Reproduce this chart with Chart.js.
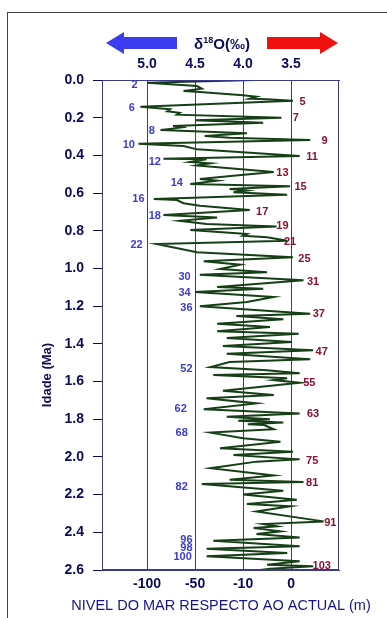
<!DOCTYPE html>
<html>
<head>
<meta charset="utf-8">
<script src="https://cdn.jsdelivr.net/npm/chart.js@4"></script>
<style>
  html, body { margin: 0; padding: 0; background: #fff; }
  #wrap { position: relative; width: 387px; height: 618px; }
</style>
</head>
<body>
<div id="wrap"><canvas id="isotopeChart"></canvas></div>
<script>
// Age (Ma) of each sample, top to bottom
const ages = [
  0.000, 0.014, 0.032, 0.046, 0.058, 0.064, 0.081, 0.089, 0.099, 0.102, 0.110, 0.142, 0.155, 0.166, 0.174, 0.184, 0.200, 0.214, 0.227, 0.244, 0.248, 0.258, 0.265, 0.283, 0.297, 0.306, 0.318, 0.338, 0.350, 0.368, 0.403, 0.418, 0.421, 0.435, 0.442, 0.453, 0.488,
  0.508, 0.525, 0.534, 0.552, 0.564, 0.578, 0.587, 0.596, 0.609, 0.631, 0.637, 0.654, 0.667, 0.690, 0.716, 0.729, 0.747, 0.764, 0.778, 0.796, 0.817, 0.826, 0.835, 0.853, 0.870, 0.914, 0.941, 0.962, 0.980, 1.003, 1.020,
  1.033, 1.040, 1.063, 1.098, 1.107, 1.125, 1.151, 1.178, 1.201, 1.240, 1.252, 1.270, 1.293, 1.311, 1.333, 1.346, 1.369, 1.390, 1.411, 1.434, 1.452, 1.482, 1.496, 1.523, 1.540,
  1.556, 1.565, 1.583, 1.592, 1.606, 1.649, 1.671, 1.689, 1.716, 1.747, 1.769, 1.787, 1.800, 1.808, 1.818, 1.826, 1.831, 1.853, 1.871, 1.901, 1.919, 1.954, 1.972, 1.990, 2.013, 2.025, 2.060,
  2.098, 2.121, 2.133, 2.144, 2.179, 2.200, 2.227, 2.250, 2.262, 2.289, 2.342, 2.356, 2.368, 2.377, 2.395, 2.409, 2.427, 2.445, 2.474, 2.487, 2.510, 2.527, 2.554, 2.572, 2.580, 2.593, 2.600
];
// delta 18O (per mil) for each age
const d18O = [
  3.88, 5.00, 4.48, 4.43, 4.62, 4.45, 4.00, 3.86, 3.93, 3.75, 3.48, 5.07, 4.76, 4.79, 4.66, 4.69, 3.60, 4.50, 3.79, 4.73, 4.59, 4.74, 4.86, 3.96, 4.40, 4.14, 3.30, 5.09, 4.62, 4.48, 3.41, 4.83, 4.38, 4.55, 4.34, 4.48, 3.68,
  4.10, 4.45, 4.27, 4.55, 3.51, 4.14, 3.96, 4.10, 3.54, 4.93, 4.69, 4.62, 4.45, 3.93, 4.83, 4.27, 4.66, 4.38, 3.65, 4.55, 3.96, 4.00, 3.75, 3.54, 4.90, 4.48, 3.48, 4.41, 4.03, 4.24, 3.75,
  4.45, 4.21, 3.37, 4.27, 3.79, 4.50, 3.68, 3.96, 4.45, 3.30, 4.07, 3.58, 4.27, 3.72, 4.27, 3.42, 4.17, 3.49, 4.21, 3.27, 4.17, 3.30, 4.14, 4.34, 3.75,
  3.41, 4.31, 3.54, 3.68, 3.41, 4.21, 3.68, 4.38, 3.86, 4.41, 3.41, 4.17, 3.72, 4.05, 3.58, 3.95, 3.78, 3.68, 4.34, 4.00, 3.61, 4.24, 3.48, 4.10, 3.41, 3.86, 4.34,
  3.68, 4.14, 3.37, 4.43, 3.58, 4.00, 3.44, 3.96, 3.51, 3.86, 3.16, 3.79, 3.65, 3.89, 3.61, 3.86, 3.41, 4.31, 3.41, 4.38, 3.54, 4.38, 3.41, 3.75, 3.27, 3.72, 3.82
];

const d18OTicks = [5.0, 4.5, 4.0, 3.5];
const seaLevelTicks = ["-100", "-50", "-10", "0"];

// marine isotope stages: glacial (even, blue) and interglacial (odd, red)
const glacialStages = ["2", "6", "8", "10", "12", "14", "16", "18", "22", "30", "34", "36", "52", "62", "68", "82", "96", "98", "100"];
const glacialAges = [0.027, 0.147, 0.269, 0.345, 0.434, 0.548, 0.633, 0.720, 0.876, 1.044, 1.129, 1.211, 1.533, 1.746, 1.875, 2.161, 2.441, 2.485, 2.533];
const glacialD18O = [5.13, 5.16, 4.95, 5.19, 4.92, 4.69, 5.09, 4.92, 5.11, 4.61, 4.61, 4.59, 4.59, 4.65, 4.64, 4.64, 4.59, 4.59, 4.63];

const interStages = ["5", "7", "9", "11", "13", "15", "17", "19", "21", "25", "31", "37", "47", "55", "63", "75", "81", "91", "103"];
const interAges = [0.115, 0.203, 0.322, 0.410, 0.492, 0.566, 0.699, 0.775, 0.858, 0.950, 1.070, 1.242, 1.442, 1.606, 1.774, 2.020, 2.140, 2.349, 2.579];
const interD18O = [3.38, 3.45, 3.15, 3.28, 3.59, 3.40, 3.80, 3.59, 3.51, 3.36, 3.27, 3.21, 3.18, 3.31, 3.27, 3.28, 3.28, 3.09, 3.18];

const navy = "#0b0b5c";
const gridBlue = "#3a3a8c";
const fontFamily = "'Liberation Sans', Arial, sans-serif";

const overlay = {
  id: "overlay",
  beforeDraw(chart) {
    const ctx = chart.ctx;
    ctx.save();
    ctx.fillStyle = "#fff";
    ctx.fillRect(0, 0, chart.width, chart.height);
    ctx.strokeStyle = "#444";
    ctx.lineWidth = 1;
    ctx.strokeRect(7.5, 12.5, 420, 700);
    ctx.restore();
  },
  afterDraw(chart) {
    const ctx = chart.ctx;
    const a = chart.chartArea;
    const xs = chart.scales.x;
    const ys = chart.scales.y;
    ctx.save();

    // plot frame
    ctx.strokeStyle = gridBlue;
    ctx.lineWidth = 1;
    ctx.strokeRect(a.left + 0.5, a.top + 0.5, a.right - a.left - 1, a.bottom - a.top - 1);

    // stage numbers
    ctx.font = "bold 11px " + fontFamily;
    ctx.textAlign = "center";
    ctx.textBaseline = "middle";
    ctx.fillStyle = "#3b3bd6";
    glacialStages.forEach((s, i) => {
      ctx.fillText(s, xs.getPixelForValue(glacialD18O[i]), ys.getPixelForValue(glacialAges[i]));
    });
    ctx.fillStyle = "#8c0f2e";
    interStages.forEach((s, i) => {
      ctx.fillText(s, xs.getPixelForValue(interD18O[i]), ys.getPixelForValue(interAges[i]));
    });

    // arrows
    const ay = 43;
    ctx.fillStyle = "#3c3cf0";
    ctx.beginPath();
    ctx.moveTo(106, ay);
    ctx.lineTo(124, ay - 11);
    ctx.lineTo(124, ay - 6);
    ctx.lineTo(177, ay - 6);
    ctx.lineTo(177, ay + 6);
    ctx.lineTo(124, ay + 6);
    ctx.lineTo(124, ay + 11);
    ctx.closePath();
    ctx.fill();
    ctx.fillStyle = "#f01010";
    ctx.beginPath();
    ctx.moveTo(338, ay);
    ctx.lineTo(320, ay - 11);
    ctx.lineTo(320, ay - 6);
    ctx.lineTo(267, ay - 6);
    ctx.lineTo(267, ay + 6);
    ctx.lineTo(320, ay + 6);
    ctx.lineTo(320, ay + 11);
    ctx.closePath();
    ctx.fill();

    // top title with superscript
    ctx.fillStyle = navy;
    ctx.textBaseline = "alphabetic";
    ctx.textAlign = "left";
    const big = "bold 15px " + fontFamily;
    const small = "bold 9px " + fontFamily;
    ctx.font = big;
    const w1 = ctx.measureText("\u03b4").width;
    const w3 = ctx.measureText("O(\u2030)").width;
    ctx.font = small;
    const w2 = ctx.measureText("18").width;
    let tx = 222 - (w1 + w2 + w3) / 2;
    const base = 49;
    ctx.font = big;
    ctx.fillText("\u03b4", tx, base);
    tx += w1;
    ctx.font = small;
    ctx.fillText("18", tx, base - 6);
    tx += w2;
    ctx.font = big;
    ctx.fillText("O(\u2030)", tx, base);

    // bottom axis title, fitted to the width it has in the reference
    const bottomTitle = "NIVEL DO MAR RESPECTO AO ACTUAL (m)";
    ctx.font = "13px " + fontFamily;
    const fitSize = 13 * 300 / ctx.measureText(bottomTitle).width;
    ctx.font = fitSize.toFixed(1) + "px " + fontFamily;
    ctx.fillStyle = "#14148a";
    ctx.textAlign = "center";
    ctx.textBaseline = "middle";
    ctx.fillText(bottomTitle, 221, 606);

    // left axis title
    ctx.fillStyle = navy;
    ctx.translate(47, 375);
    ctx.rotate(-Math.PI / 2);
    ctx.font = "bold 13px " + fontFamily;
    ctx.fillText("Idade (Ma)", 0, 0);
    ctx.restore();
  }
};

const fixTicks = (scale) => {
  scale.ticks = d18OTicks.map(v => ({ value: v }));
};

const ctx = document.getElementById("isotopeChart").getContext("2d");
const isotopeChart = new Chart(ctx, {
  type: "scatter",
  data: {
    datasets: [
      {
        label: "d18O",
        data: ages.map((t, i) => ({ x: d18O[i], y: t })),
        showLine: true,
        borderColor: "#173f17",
        borderWidth: 2,
        pointRadius: 0,
        tension: 0,
        xAxisID: "x",
        yAxisID: "y",
      }
    ],
  },
  options: {
    responsive: true,
    maintainAspectRatio: false,
    animation: false,
    layout: { padding: { left: 0, right: 48, top: 0, bottom: 0 } },
    plugins: {
      legend: { display: false },
      tooltip: { enabled: false },
    },
    scales: {
      x: {
        type: "linear",
        position: "bottom",
        min: 3.0,
        max: 5.47,
        reverse: true,
        afterBuildTicks: fixTicks,
        afterFit: (s) => { s.height = 48; },
        grid: { display: true, drawOnChartArea: true, drawTicks: false, color: gridBlue },
        border: { display: true, color: gridBlue },
        ticks: {
          padding: 6,
          color: navy,
          font: { family: fontFamily, size: 14, weight: "bold" },
          callback: (v) => seaLevelTicks[d18OTicks.indexOf(Math.round(v * 10) / 10)],
        },
      },
      x2: {
        type: "linear",
        position: "top",
        min: 3.0,
        max: 5.47,
        reverse: true,
        afterBuildTicks: fixTicks,
        afterFit: (s) => { s.height = 80; },
        grid: { display: true, drawOnChartArea: false, drawTicks: false },
        border: { display: true, color: gridBlue },
        ticks: {
          padding: 7,
          color: navy,
          font: { family: fontFamily, size: 14, weight: "bold" },
          callback: (v) => v.toFixed(1),
        },
      },
      y: {
        type: "linear",
        position: "left",
        min: 0,
        max: 2.6,
        reverse: true,
        afterFit: (s) => { s.width = 102; },
        grid: { display: true, drawOnChartArea: false, drawTicks: true, tickLength: 9, color: navy },
        border: { display: true, color: gridBlue },
        ticks: {
          stepSize: 0.2,
          padding: 9,
          color: navy,
          font: { family: fontFamily, size: 14, weight: "bold" },
          callback: (v) => v.toFixed(1),
        },
      },
    },
  },
  plugins: [overlay],
});
</script>
</body>
</html>
